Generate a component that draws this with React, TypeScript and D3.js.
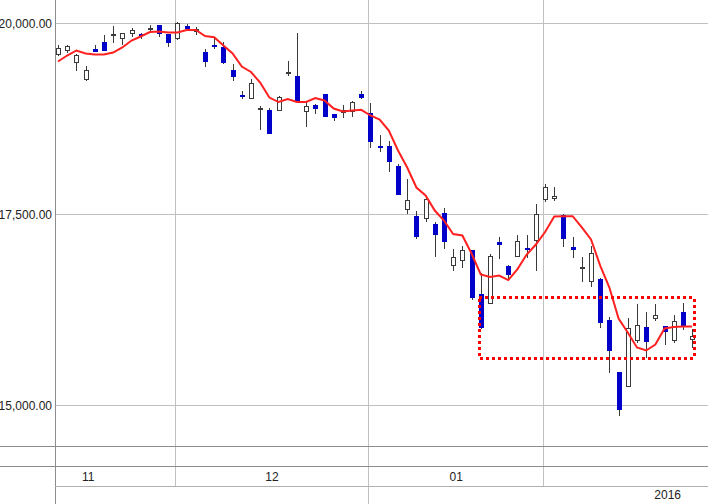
import React from "react";
import * as d3 from "d3";

const dates = [
  "2015-11-11","2015-11-12","2015-11-13","2015-11-16","2015-11-17","2015-11-18","2015-11-19","2015-11-20","2015-11-24","2015-11-25","2015-11-26","2015-11-27","2015-11-30",
  "2015-12-01","2015-12-02","2015-12-03","2015-12-04","2015-12-07","2015-12-08","2015-12-09","2015-12-10","2015-12-11","2015-12-14","2015-12-15","2015-12-16","2015-12-17","2015-12-18","2015-12-21","2015-12-22","2015-12-24","2015-12-25","2015-12-28","2015-12-29","2015-12-30",
  "2016-01-04","2016-01-05","2016-01-06","2016-01-07","2016-01-08","2016-01-12","2016-01-13","2016-01-14","2016-01-15","2016-01-18","2016-01-19","2016-01-20","2016-01-21","2016-01-22","2016-01-25","2016-01-26","2016-01-27","2016-01-28","2016-01-29",
  "2016-02-01","2016-02-02","2016-02-03","2016-02-04","2016-02-05","2016-02-08","2016-02-09","2016-02-10","2016-02-12","2016-02-15","2016-02-16","2016-02-17","2016-02-18","2016-02-19","2016-02-22","2016-02-23","2016-02-24",
];

const opens = [
  19603,19656,19493,19276,19660,19764,19860,19813,19878,19858,19944,19983,19863,
  19813,19961,19899,19624,19715,19690,19385,19065,19027,18890,18874,18870,19360,19319,18852,18927,19071,18818,18844,18857,19071,
  18826,18403,18403,18141,17574,17474,17457,17382,17526,16841,16907,17029,16462,16344,17146,16828,16959,17058,17169,
  17705,17713,17496,17072,16815,16627,16658,16125,15436,15257,15854,16034,16142,16043,15860,16230,15864,
];
const highs = [
  19721,19725,19595,19450,19725,19843,19961,19880,19944,19878,19983,19985,19865,
  20026,19996,19952,19660,19808,19764,19472,19119,19276,18917,18896,19057,19503,19873,18970,18940,19075,18820,18927,18992,19110,
  18962,18543,18468,18163,17967,17552,17710,17399,17588,17042,17090,17035,16731,16985,17212,16841,17238,17238,17640,
  17902,17866,17509,17212,16950,17085,16665,16155,15440,16148,16331,16221,16331,16045,16187,16348,16004,
];
const lows = [
  19590,19624,19389,19254,19645,19650,19764,19734,19834,19813,19918,19834,19712,
  19791,19931,19865,19441,19677,19480,19263,19027,19025,18622,18565,18868,19328,18990,18656,18826,18785,18743,18773,18787,19022,
  18390,18328,18067,17764,17517,17190,17412,16954,17059,16780,16810,16396,16020,16340,16933,16645,16955,16941,16776,
  17674,17687,17085,16941,16627,16561,16025,15436,14878,15255,15828,15632,16121,15807,15828,16004,15763,
];
const closes = [
  19682,19699,19590,19394,19645,19656,19860,19878,19918,19847,19944,19878,19755,
  20009,19938,19931,19507,19700,19493,19310,19050,19224,18890,18569,19044,19360,18992,18914,18891,18787,18773,18870,18975,19035,
  18459,18381,18197,17766,17692,17216,17705,17242,17150,16941,17038,16417,16025,16959,17111,16718,17156,17044,17509,
  17862,17745,17195,17051,16815,16998,16090,15723,14956,16017,16056,15841,16187,15972,16103,16047,15912,
];
const maValues = [
  19503,19581,19647,19607,19594,19594,19620,19686,19777,19830,19889,19895,19882,
  19882,19915,19915,19836,19821,19712,19607,19437,19365,19228,19031,18972,19012,18972,18972,19025,18992,18887,18848,18861,18870,
  18796,18743,18599,18338,18115,17853,17749,17552,17421,17245,17225,16989,16715,16682,16701,16642,16786,16976,17107,
  17271,17474,17478,17478,17330,17173,16832,16544,16138,15955,15759,15720,15798,16008,16027,16034,16034,
];

const yTicks = [15000, 17500, 20000];
const monthKeys = ["2015-11", "2015-12", "2016-01", "2016-02"];
const monthLabels = ["11", "12", "01", ""];
const monthTradingDays = [19, 21, 19, 20];
const yearLabels = ["", "2016"];
const yearKeys = ["2015", "2016"];
// highlighted box: from 2016-01-21 to 2016-02-24, price band
const boxStartDate = "2016-01-21";
const boxEndDate = "2016-02-24";
const boxHigh = 16410;
const boxLow = 15620;

const W = 708;
const H = 504;
const plotLeft = 55;
const plotBottom = 446;
const row1 = 466.5;
const row2 = 486.5;

export default function App() {
  const x = d3.scalePoint<string>().domain(dates).range([53.4, 696.7]).padding(0.5);
  const step = x.step();
  const y = d3.scaleLinear().domain([15000, 20000]).range([405.5, 23.5]);
  const fmt = d3.format(",.2f");
  const crisp = (v: number) => Math.floor(v) + 0.5;

  // month boundaries
  const monthStartX = monthKeys.map((k) => {
    const d = dates.find((s) => s.startsWith(k));
    return d ? crisp((x(d) as number) - step * 0.22) : null;
  });
  const yearStartX = yearKeys.map((k) => {
    const d = dates.find((s) => s.startsWith(k));
    return d ? crisp((x(d) as number) - step * 0.22) : null;
  });

  const line = d3
    .line<number>()
    .x((_, i) => x(dates[i]) as number)
    .y((v) => y(v));

  const boxX0 = Math.round(x(boxStartDate) as number) - 2;
  const boxX1 = Math.round(x(boxEndDate) as number) + 2;

  const font = "'Liberation Sans Narrow', 'Arial Narrow', sans-serif";

  return (
    <svg
      width={W}
      height={H}
      style={{ position: "fixed", left: 0, top: 0, background: "#fff" }}
      fontFamily={font}
    >
      <rect x={0} y={0} width={W} height={H} fill="#fff" />
      {/* horizontal gridlines */}
      {yTicks.map((t) => (
        <line key={t} x1={plotLeft} x2={W} y1={crisp(y(t))} y2={crisp(y(t))} stroke="#c0c0c0" strokeWidth={1} />
      ))}
      {/* vertical month gridlines */}
      {monthStartX.map((mx, i) =>
        mx !== null && i > 0 ? (
          <line key={"m" + i} x1={mx} x2={mx} y1={0} y2={row2} stroke="#c0c0c0" strokeWidth={1} />
        ) : null
      )}
      {yearStartX.map((yx, i) =>
        yx !== null && i > 0 ? (
          <line key={"y" + i} x1={yx} x2={yx} y1={row2} y2={H} stroke="#c0c0c0" strokeWidth={1} />
        ) : null
      )}
      {/* frame lines */}
      <line x1={plotLeft + 0.5} x2={plotLeft + 0.5} y1={0} y2={H} stroke="#8c8c8c" />
      <line x1={0} x2={W} y1={plotBottom + 0.5} y2={plotBottom + 0.5} stroke="#8c8c8c" />
      <line x1={0} x2={W} y1={row1} y2={row1} stroke="#8c8c8c" />
      <line x1={plotLeft} x2={W} y1={row2} y2={row2} stroke="#b0b0b0" />

      {/* y tick labels */}
      {yTicks.map((t) => (
        <text key={"t" + t} x={52} y={y(t)} dy="0.35em" textAnchor="end" fontSize={12} fill="#222">
          {fmt(t)}
        </text>
      ))}

      {/* candles */}
      {dates.map((d, i) => {
        const cx = Math.round(x(d) as number);
        const o = opens[i];
        const c = closes[i];
        const top = Math.round(y(Math.max(o, c)));
        const bot = Math.round(y(Math.min(o, c)));
        const hi = Math.round(y(highs[i]));
        const lo = Math.round(y(lows[i]));
        const down = c < o;
        return (
          <g key={d} shapeRendering="crispEdges">
            <line x1={cx + 0.5} x2={cx + 0.5} y1={hi} y2={lo + 1} stroke="#3a3a3a" strokeWidth={1} />
            {down ? (
              <rect x={cx - 2} y={top} width={5} height={Math.max(2, bot - top + 1)} fill="#0000c8" />
            ) : (
              <rect
                x={cx - 1.5}
                y={top + 0.5}
                width={4}
                height={Math.max(1, bot - top)}
                fill="#fff"
                stroke="#3a3a3a"
                strokeWidth={1}
              />
            )}
          </g>
        );
      })}

      {/* moving average line */}
      <path d={line(maValues) || ""} fill="none" stroke="#ff2020" strokeWidth={2} />

      {/* highlight box */}
      <rect
        x={boxX0}
        y={y(boxHigh)}
        width={boxX1 - boxX0}
        height={y(boxLow) - y(boxHigh)}
        fill="none"
        stroke="#ff0000"
        strokeWidth={3}
        strokeDasharray="3 3"
        shapeRendering="crispEdges"
      />

      {/* month labels */}
      {monthKeys.map((k, i) => {
        const sx = monthStartX[i];
        const next = monthStartX[i + 1];
        if (sx === null || !monthLabels[i]) return null;
        const end = next !== null && next !== undefined ? next : W;
        const cxm = end - (monthTradingDays[i] * step) / 2;
        return (
          <text key={"ml" + k} x={cxm} y={(row1 + row2) / 2} dy="0.35em" textAnchor="middle" fontSize={12} fill="#222">
            {monthLabels[i]}
          </text>
        );
      })}
      {/* year labels */}
      {yearLabels.map((lbl, i) =>
        lbl ? (
          <text key={"yl" + i} x={W - 27} y={(row2 + H) / 2} dy="0.35em" textAnchor="end" fontSize={12} fill="#222">
            {lbl}
          </text>
        ) : null
      )}
    </svg>
  );
}
